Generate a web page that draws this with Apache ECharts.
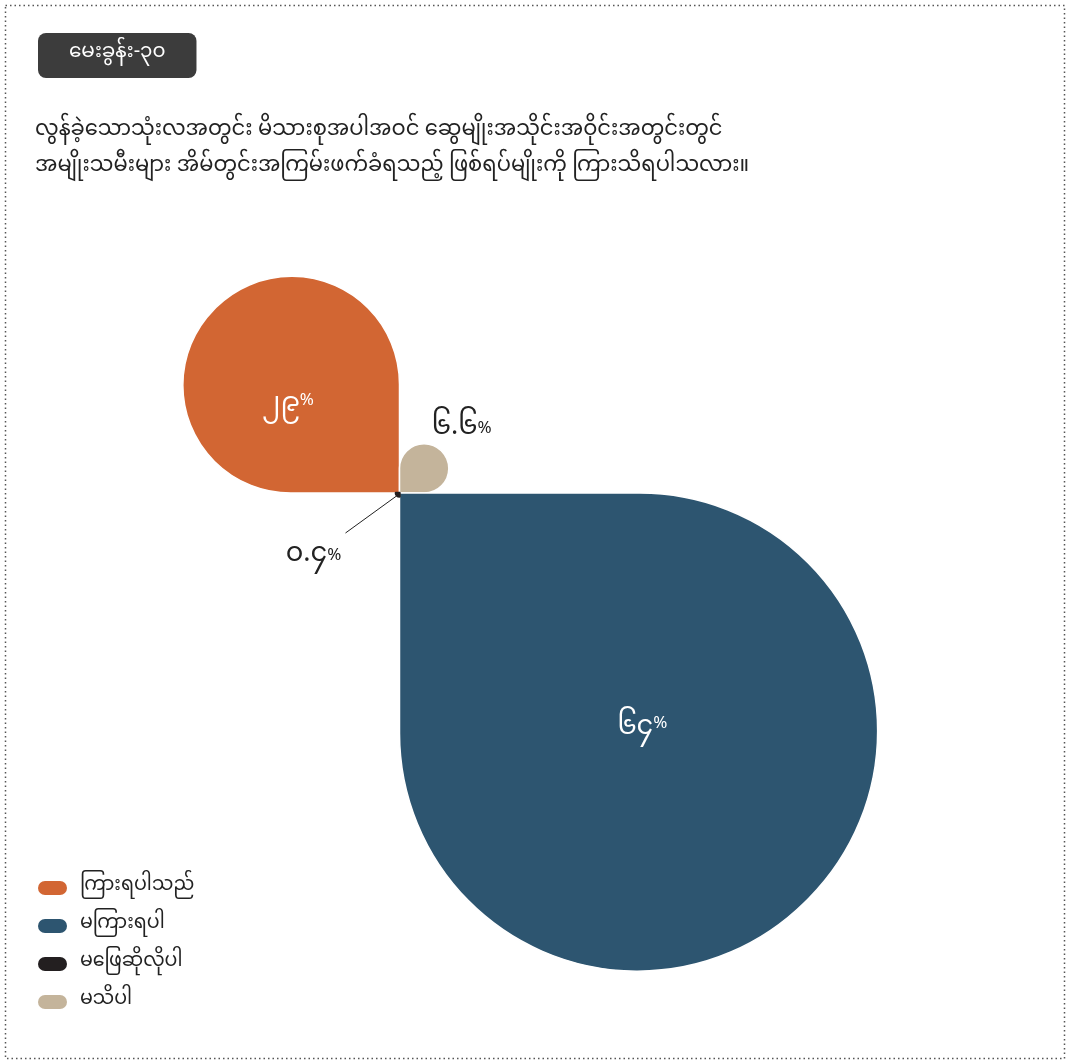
<!DOCTYPE html>
<html><head><meta charset="utf-8">
<script src="https://cdn.jsdelivr.net/npm/echarts@6/dist/echarts.min.js"></script>
<style>html,body{margin:0;padding:0;background:#fff}#c{width:1066px;height:1060px}</style>
</head><body><div id="c"></div>
<script>
const categories = ['ကြားရပါသည်', 'မကြားရပါ', 'မဖြေဆိုလိုပါ', 'မသိပါ'];
const values = [29, 64, 0.4, 6.6];
const labelTexts = ['၂၉', '၆၄', '၀.၄', '၆.၆'];
const colors = ['#d26633', '#2d5570', '#231f20', '#c4b49b'];
const drawOrder = [0, 3, 1, 2];   // clockwise from the left: orange, beige, blue, black
const titleText = 'မေးခွန်း-၃၀';
const questionText = 'လွန်ခဲ့သောသုံးလအတွင်း မိသားစုအပါအဝင် ဆွေမျိုးအသိုင်းအဝိုင်းအတွင်းတွင်\nအမျိုးသမီးများ အိမ်တွင်းအကြမ်းဖက်ခံရသည့် ဖြစ်ရပ်မျိုးကို ကြားသိရပါသလား။';

const font = '"Noto Sans Myanmar", "Noto Sans", sans-serif';

// label placement (style offsets)
function placeLabel(p) {
  const i = drawOrder[p.dataIndex];
  const r = p.rect;
  if (i === 0) return { dx: -17, dy: 10 };
  if (i === 1) return { dx: 37, dy: 32 };
  if (i === 3) return { x: r.x + r.width + 12, y: r.y - 12, align: 'center', verticalAlign: 'middle' };
  // black slice: label down-left with a straight leader line
  const sx = r.x + r.width * 0.3, sy = r.y + r.height * 0.7;
  return {
    x: sx - 83, y: sy + 62, align: 'center', verticalAlign: 'middle',
    labelLinePoints: [[sx, sy], [sx - 51, sy + 37], [sx - 51, sy + 37]]
  };
}

const chart = echarts.init(document.getElementById('c'));
chart.setOption({
  backgroundColor: '#fff',
  title: [
    { text: titleText, left: 38, top: 33, backgroundColor: '#3c3c3c', borderRadius: 8,
      padding: [12, 31, 13, 31], textStyle: { color: '#fff', fontSize: 20, fontWeight: 'normal', fontFamily: font } },
    { text: questionText, left: 30, top: 110, textStyle: { color: '#222', fontSize: 21, fontWeight: 'normal', lineHeight: 36, fontFamily: font } }
  ],
  graphic: [
    { type: 'rect', left: 3, top: 3, shape: { width: 1059, height: 1053 }, silent: true,
      style: { fill: 'none', stroke: '#555', lineWidth: 1.5, lineDash: [1.5, 3] } }
  ],
  legend: {
    orient: 'vertical', left: 38, top: 878, padding: 0, itemWidth: 29, itemHeight: 14, itemGap: 18,
    icon: 'path://M7,0 H22 A7,7 0 0 1 22,14 H7 A7,7 0 0 1 7,0 Z',
    textStyle: { color: '#222', fontSize: 19, fontFamily: font, lineHeight: 20, padding: [0, 0, 0, 8] },
    data: categories.map((c, i) => ({ name: c, itemStyle: { color: colors[i], borderWidth: 0 } }))
  },
  series: [{
    type: 'pie',
    roseType: 'area',
    center: [399.5, 493],
    radius: [0, 576],
    startAngle: 180,
    clockwise: true,
    avoidLabelOverlap: false,
    itemStyle: { borderRadius: '41.3%', borderColor: '#fff', borderWidth: 1.5 },
    labelLayout: placeLabel,
    data: drawOrder.map(i => ({
      name: categories[i], value: values[i],
      itemStyle: (i === 2) ? { color: colors[i], borderWidth: 2.5, borderColor: colors[i], borderRadius: 0 } : { color: colors[i] },
      label: (i < 2) ? {
        position: 'inside', formatter: labelTexts[i] + '{p|%}',
        color: '#fff', fontSize: 27, fontFamily: font,
        rich: { p: { fontSize: 17, color: '#fff', verticalAlign: 'top', fontFamily: font } }
      } : {
        position: 'outside', formatter: labelTexts[i] + '{p|%}',
        color: '#222', fontSize: 27, fontFamily: font,
        rich: { p: { fontSize: 17, color: '#222', fontFamily: font } }
      },
      labelLine: (i === 2) ? { show: true, length: 10, length2: 0, lineStyle: { color: '#222', width: 1 } }
                           : { show: false, length: 6, length2: 0 }
    }))
  }]
});
</script></body></html>
